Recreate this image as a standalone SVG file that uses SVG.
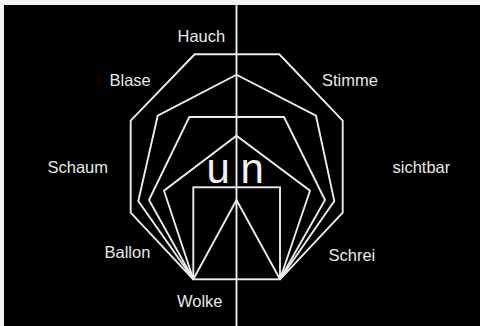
<svg xmlns="http://www.w3.org/2000/svg" width="480" height="326" viewBox="0 0 480 326">
<style>
.ln{fill:none;stroke:#ececec;stroke-width:1.9;stroke-linejoin:miter}
.lb{font-family:"Liberation Sans",Arial,sans-serif;font-size:16.5px;fill:#e8e8e8}
.big{font-family:"Liberation Sans",Arial,sans-serif;font-size:42px;fill:#f0f0f0}
</style>
<rect x="0" y="0" width="480" height="326" fill="#f4f4f4"/>
<rect x="4" y="5" width="476" height="321" fill="#000"/>
<g id="connectors">
<line class="ln" x1="236.5" y1="5" x2="236.5" y2="326"/>
<rect class="ln" x="193.3" y="187.3" width="86.7" height="92"/>
<polyline class="ln" points="193.3,279.3 236.5,200 280,279.3"/>
<polyline class="ln" points="193.3,279.3 164,190.7 236.5,135.7 310,190.7 280,279.3"/>
<polyline class="ln" points="193.3,279.3 149,200 189.3,117 284,117 325,200 280,279.3"/>
<polyline class="ln" points="193.3,279.3 138.3,201 157.7,115.7 236.5,74.7 316,115.7 334.3,201 280,279.3"/>
<polyline class="ln" points="193.3,279.3 130.7,212.7 130.7,120.7 194.7,54.3 279.3,54.3 342.7,120.7 342.7,212.7 280,279.3"/>
</g>
<g id="hauch"><text class="lb" x="177.5" y="41.5">Hauch</text></g>
<g id="blase"><text class="lb" x="109.5" y="86">Blase</text></g>
<g id="stimme"><text class="lb" x="322" y="85.7">Stimme</text></g>
<g id="schaum"><text class="lb" x="47.5" y="173.3">Schaum</text></g>
<g id="sichtbar"><text class="lb" x="392.5" y="173.3">sichtbar</text></g>
<g id="ballon"><text class="lb" x="104.5" y="257.7">Ballon</text></g>
<g id="schrei"><text class="lb" x="328.5" y="261">Schrei</text></g>
<g id="wolke"><text class="lb" x="177" y="307.3">Wolke</text></g>
<g id="u"><text class="big" x="206.5" y="182.7">u</text></g>
<g id="n"><text class="big" x="240.5" y="182.7">n</text></g>
</svg>
